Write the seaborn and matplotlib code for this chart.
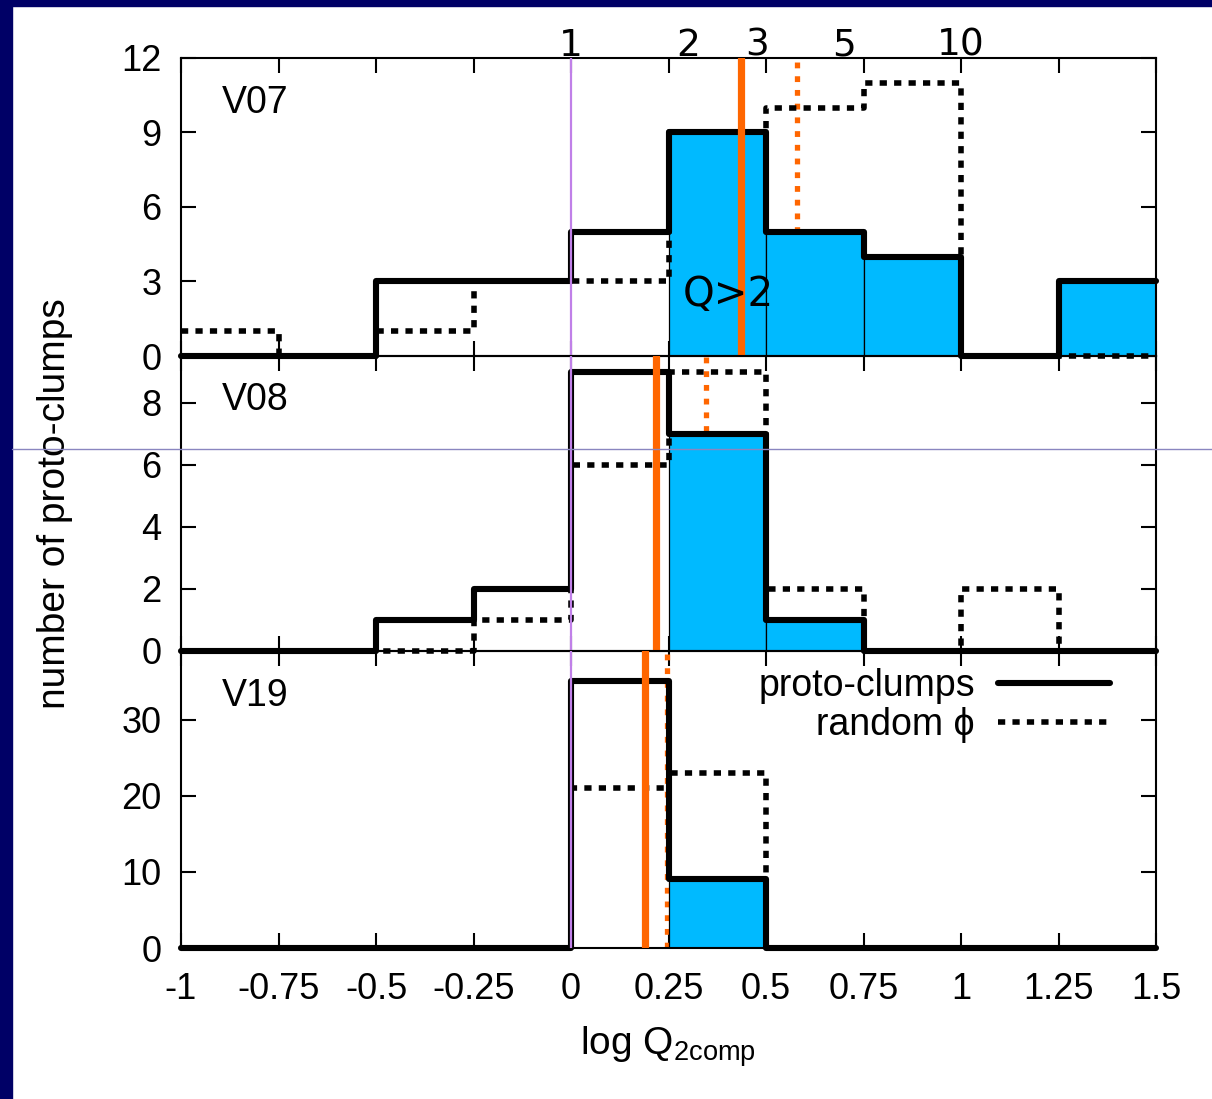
import numpy as np
import pandas as pd
import matplotlib
matplotlib.use("Agg")
import matplotlib.pyplot as plt
import seaborn as sns
from matplotlib.lines import Line2D
from matplotlib.patches import Rectangle

# ---------------- data ----------------
bin_edges = [-1.0, -0.75, -0.5, -0.25, 0.0, 0.25, 0.5, 0.75, 1.0, 1.25, 1.5]
panel_names = ["V07", "V08", "V19"]
v07_proto = [0, 0, 3, 3, 5, 9, 5, 4, 0, 3]
v07_random = [1, 0, 1, 3, 3, 9, 10, 11, 0, 0]
v08_proto = [0, 0, 1, 2, 9, 7, 1, 0, 0, 0]
v08_random = [0, 0, 0, 1, 6, 9, 2, 0, 2, 0]
v19_proto = [0, 0, 0, 0, 35, 9, 0, 0, 0, 0]
v19_random = [0, 0, 0, 0, 21, 23, 0, 0, 0, 0]
median_proto = [0.435, 0.218, 0.19]
median_random = [0.58, 0.346, 0.245]
y_max = [12, 9.5, 39]
y_ticks = [[0, 3, 6, 9, 12], [0, 2, 4, 6, 8], [0, 10, 20, 30]]
x_ticks = [-1, -0.75, -0.5, -0.25, 0, 0.25, 0.5, 0.75, 1, 1.25, 1.5]
x_tick_labels = ["-1", "-0.75", "-0.5", "-0.25", "0", "0.25", "0.5", "0.75", "1", "1.25", "1.5"]
fill_from = 0.25          # bins with left edge >= this are shaded (Q > 2)
top_q_values = [1, 2, 3, 5, 10]
legend_labels = ["proto-clumps", "random \u03d5"]

protos = [v07_proto, v08_proto, v19_proto]
randoms = [v07_random, v08_random, v19_random]

# ---------------- style ----------------
sns.set_style("ticks")
plt.rcParams["font.family"] = ["Liberation Sans", "DejaVu Sans"]
plt.rcParams["axes.linewidth"] = 1.5
for k in ["text.color", "axes.labelcolor", "xtick.color", "ytick.color", "axes.edgecolor"]:
    plt.rcParams[k] = "black"

BLUE = "#00BAFF"
ORANGE = "#FF6600"
PURPLE = "#C080E8"
NAVY = "#000066"
LW = 4.4
DLW = 4.0
DOT = (0, (1.3, 1.3))

fig = plt.figure(figsize=(12.12, 10.99), dpi=100)
fig.patch.set_facecolor("white")

L, W = 181 / 1212, 975 / 1212
rects = [
    (L, 1 - 356 / 1099, W, 298 / 1099),
    (L, 1 - 651 / 1099, W, 295 / 1099),
    (L, 1 - 948 / 1099, W, 297 / 1099),
]

edges = np.array(bin_edges)
centers = (edges[:-1] + edges[1:]) / 2

axes = []
for i, r in enumerate(rects):
    ax = fig.add_axes(r)
    ax.patch.set_visible(False)
    axes.append(ax)
    proto = np.array(protos[i], dtype=float)
    rand = np.array(randoms[i], dtype=float)
    df = pd.DataFrame({
        "logQ": centers,
        "proto": proto,
        "random": rand,
        "shaded": np.where(edges[:-1] >= fill_from - 1e-9, proto, 0.0),
    })

    # shaded Q>2 bins
    sns.histplot(data=df, x="logQ", weights="shaded", bins=list(bin_edges),
                 element="bars", color=BLUE, edgecolor="black", linewidth=0.9,
                 alpha=1, ax=ax, zorder=1.5)
    # random-phi distribution (dotted)
    sns.histplot(data=df, x="logQ", weights="random", bins=list(bin_edges),
                 element="step", fill=False, color="black", linewidth=DLW,
                 linestyle=DOT, ax=ax, zorder=2.2, clip_on=False)
    # proto-clump distribution (solid)
    sns.histplot(data=df, x="logQ", weights="proto", bins=list(bin_edges),
                 element="step", fill=False, color="black", linewidth=LW,
                 ax=ax, zorder=2.6, clip_on=False)

    ax.axvline(median_random[i], color=ORANGE, lw=3.8, ls=(0, (1.1, 1.5)), zorder=1.2)
    ax.axvline(median_proto[i], color=ORANGE, lw=5.2, zorder=4)
    ax.axvline(0, color=PURPLE, lw=1.6, zorder=3)

    ax.set_xlim(bin_edges[0], bin_edges[-1])
    ax.set_ylim(0, y_max[i])
    ax.set_yticks(y_ticks[i])
    ax.set_yticklabels([str(t) for t in y_ticks[i]])
    ax.set_xticks(x_ticks)
    ax.set_ylabel("")
    ax.set_xlabel("")
    ax.tick_params(direction="in", top=True, right=True, length=11, width=1.5,
                   labelsize=26, pad=14, colors="black")
    if i < 2:
        ax.tick_params(labelbottom=False)
    else:
        ax.set_xticklabels(x_tick_labels)
        ax.tick_params(axis="x", pad=17)
    for s in ax.spines.values():
        s.set_visible(True)
        s.set_linewidth(1.5)
        s.set_color("black")
    ax.text(0.042, 0.85, panel_names[i], transform=ax.transAxes, fontsize=27,
            ha="left", va="center", color="black")

# annotations on top panel
ax0 = axes[0]
for q in top_q_values:
    ax0.text(np.log10(q), 1.008, str(q), transform=ax0.get_xaxis_transform(),
             ha="center", va="baseline", fontsize=27, family="DejaVu Sans",
             color="black")
ax0.text(0.403, 0.205, "Q>2", transform=ax0.get_xaxis_transform(),
         ha="center", va="center", fontsize=29, family="DejaVu Sans",
         color="black", zorder=5)

# legend in bottom panel
handles = [Line2D([], [], color="black", lw=LW),
           Line2D([], [], color="black", lw=DLW, ls=DOT)]
leg = axes[2].legend(handles, legend_labels, loc="upper right", frameon=False,
                     markerfirst=False, fontsize=27, handlelength=3.0,
                     handletextpad=0.6, labelspacing=0.08, borderpad=0,
                     borderaxespad=0,
                     bbox_to_anchor=((1110 - 181) / 975, 1 - (668 - 651) / 297))
for t in leg.get_texts():
    t.set_color("black")

fig.text(55 / 1212, 1 - 504 / 1099, "number of proto-clumps", rotation=90,
         ha="center", va="center", fontsize=28, color="black")
fig.text(668 / 1212, 1 - 1047 / 1099, "log Q$_{\\mathregular{2comp}}$",
         ha="center", va="center", fontsize=28, color="black")

# slide frame
fig.add_artist(Rectangle((0, 0), 12 / 1212, 1, transform=fig.transFigure,
                         color=NAVY, zorder=10))
fig.add_artist(Rectangle((0, 1 - 6 / 1099), 1, 6 / 1099, transform=fig.transFigure,
                         color=NAVY, zorder=10))
fig.add_artist(Line2D([12 / 1212, 1], [1 - 449 / 1099] * 2, transform=fig.transFigure,
                      color="#8a86c0", lw=1.0, zorder=10))

fig.savefig("out.png", dpi=100)
